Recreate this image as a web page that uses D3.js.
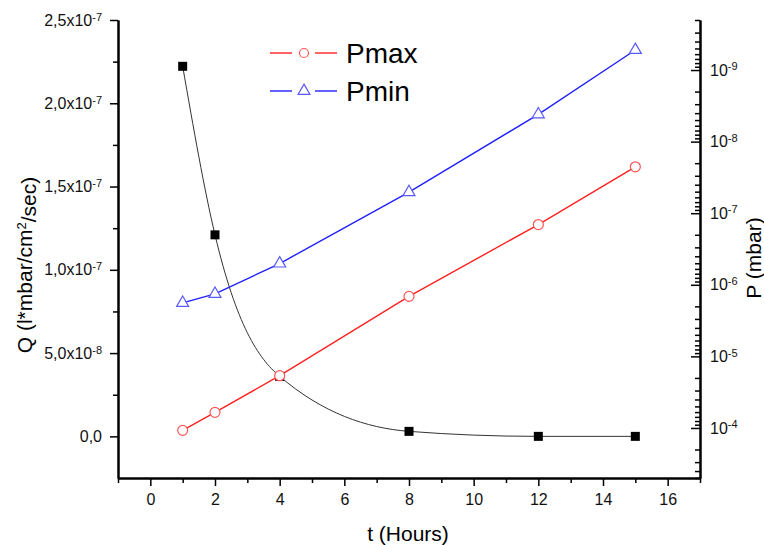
<!DOCTYPE html>
<html>
<head>
<meta charset="utf-8">
<script src="https://cdn.jsdelivr.net/npm/d3@7"></script>
<style>
  body { margin: 0; background: #fff; }
  svg { font-family: "Liberation Sans", Arial, sans-serif; }
</style>
</head>
<body>
<svg id="chart" width="764" height="545"></svg>
<script>
// data
var hours = [1, 2, 4, 8, 12, 15];
var qValues = [2.222e-7, 1.21e-7, 3.6e-8, 3.0e-9, 0, 0];
var pmaxValues = [1.08e-4, 6.05e-5, 1.86e-5, 1.45e-6, 1.44e-7, 2.25e-8];
var pminValues = [1.79e-6, 1.34e-6, 5.05e-7, 5.08e-8, 4.16e-9, 5.25e-10];

var xTicks = [0, 2, 4, 6, 8, 10, 12, 14, 16];
var qTicks = [0, 5e-8, 1e-7, 1.5e-7, 2e-7, 2.5e-7];
var qTickLabels = [["0,0", ""], ["5,0x10", "-8"], ["1,0x10", "-7"], ["1,5x10", "-7"], ["2,0x10", "-7"], ["2,5x10", "-7"]];
var pTicks = [1e-9, 1e-8, 1e-7, 1e-6, 1e-5, 1e-4];
var legendNames = ["Pmax", "Pmin"];

var svg = d3.select("#chart");
var plotLeft = 118, plotRight = 700, plotTop = 20, plotBottom = 478;

var x = d3.scaleLinear().domain([-1, 17]).range([plotLeft, plotRight]);
var yQ = d3.scaleLinear().domain([-2.5e-8, 2.5e-7]).range([plotBottom, plotTop]);
var yP = d3.scaleLog().domain([5e-4, 2e-10]).range([plotBottom, plotTop]);

// minor ticks
var xMinor = d3.range(-1, 18, 2);
var qMinor = d3.range(-2.5e-8, 2.6e-7, 5e-8).slice(1);
var pMinor = [];
[-10, -9, -8, -7, -6, -5, -4].forEach(function(e) {
    for (var m = 2; m <= 9; m++) {
        var v = m * Math.pow(10, e);
        if (v >= 2e-10 && v <= 5e-4) pMinor.push(v);
    }
});

function styleAxis(g) {
    g.attr("font-size", null).attr("font-family", null);
    g.select(".domain").attr("stroke", "#000").attr("stroke-width", 2);
    g.selectAll(".tick line").attr("stroke", "#000").attr("stroke-width", 1.5);
    g.selectAll("text").attr("fill", "#111").style("font-size", "16px");
}

// x axis
var gx = svg.append("g").attr("transform", "translate(0," + plotBottom + ")");
gx.call(d3.axisBottom(x).tickValues(xMinor).tickSize(5).tickSizeOuter(0).tickFormat(""));
var gx2 = svg.append("g").attr("transform", "translate(0," + plotBottom + ")");
gx2.call(d3.axisBottom(x).tickValues(xTicks).tickSize(8).tickSizeOuter(0).tickPadding(8));
styleAxis(gx);
styleAxis(gx2);

// left axis
var gq = svg.append("g").attr("transform", "translate(" + plotLeft + ",0)");
gq.call(d3.axisLeft(yQ).tickValues(qMinor).tickSize(5).tickSizeOuter(0).tickFormat(""));
var gq2 = svg.append("g").attr("transform", "translate(" + plotLeft + ",0)");
gq2.call(d3.axisLeft(yQ).tickValues(qTicks).tickSize(8).tickSizeOuter(0).tickPadding(8));
styleAxis(gq);
styleAxis(gq2);
gq2.selectAll(".tick text").each(function(d, i) {
    var t = d3.select(this).text("");
    t.append("tspan").text(qTickLabels[i][0]);
    if (qTickLabels[i][1]) {
        t.append("tspan").attr("dy", "-0.45em").style("font-size", "11px").text(qTickLabels[i][1]);
    }
});

// right axis (log, reversed)
var gp = svg.append("g").attr("transform", "translate(" + plotRight + ",0)");
gp.call(d3.axisRight(yP).tickValues(pMinor).tickSizeInner(-5).tickSizeOuter(0).tickFormat(""));
var gp2 = svg.append("g").attr("transform", "translate(" + plotRight + ",0)");
gp2.call(d3.axisRight(yP).tickValues(pTicks).tickSizeInner(-9).tickSizeOuter(0).tickPadding(10));
styleAxis(gp);
styleAxis(gp2);
gp2.selectAll(".tick text").each(function(d) {
    var t = d3.select(this).text("");
    t.append("tspan").text("10");
    t.append("tspan").attr("dy", "-0.5em").style("font-size", "11px").text(Math.round(Math.log10(d)));
});

// axis titles
svg.append("text")
    .attr("x", 408).attr("y", 541)
    .attr("text-anchor", "middle")
    .style("font-size", "21px")
    .text("t (Hours)");

var qt = svg.append("text")
    .attr("transform", "translate(32,265) rotate(-90)")
    .attr("text-anchor", "middle")
    .style("font-size", "21px");
qt.append("tspan").text("Q (l*mbar/cm");
qt.append("tspan").attr("dy", "-0.5em").style("font-size", "13px").text("2");
qt.append("tspan").attr("dy", "0.5em").text("/sec)");

svg.append("text")
    .attr("transform", "translate(761,258) rotate(-90)")
    .attr("text-anchor", "middle")
    .style("font-size", "21px")
    .text("P (mbar)");

// Q curve (black, smooth)
var qLine = d3.line()
    .x(function(d, i) { return x(hours[i]); })
    .y(function(d) { return yQ(d); })
    .curve(d3.curveMonotoneX);

svg.append("path")
    .datum(qValues)
    .attr("d", qLine)
    .attr("fill", "none")
    .attr("stroke", "#333")
    .attr("stroke-width", 1);

// P lines
var pLine = d3.line()
    .x(function(d, i) { return x(hours[i]); })
    .y(function(d) { return yP(d); });

svg.append("path").datum(pmaxValues).attr("d", pLine)
    .attr("fill", "none").attr("stroke", "#ff2020").attr("stroke-width", 1.4);
svg.append("path").datum(pminValues).attr("d", pLine)
    .attr("fill", "none").attr("stroke", "#2020ff").attr("stroke-width", 1.4);

// markers
svg.selectAll(".sq").data(qValues).enter().append("rect")
    .attr("class", "sq")
    .attr("x", function(d, i) { return x(hours[i]) - 4.5; })
    .attr("y", function(d) { return yQ(d) - 4.5; })
    .attr("width", 9).attr("height", 9)
    .attr("fill", "#000");

svg.selectAll(".circ").data(pmaxValues).enter().append("circle")
    .attr("class", "circ")
    .attr("cx", function(d, i) { return x(hours[i]); })
    .attr("cy", function(d) { return yP(d); })
    .attr("r", 5)
    .attr("fill", "#fff")
    .attr("stroke", "#ff5555")
    .attr("stroke-width", 1.2);

var tri = d3.symbol().type(d3.symbolTriangle).size(62);
svg.selectAll(".tri").data(pminValues).enter().append("path")
    .attr("class", "tri")
    .attr("d", tri)
    .attr("transform", function(d, i) { return "translate(" + x(hours[i]) + "," + yP(d) + ")"; })
    .attr("fill", "#fff")
    .attr("stroke", "#5a5aff")
    .attr("stroke-width", 1.2);

// legend
var lg = svg.append("g");
var legendColors = [["#ff2020", "#ff5555"], ["#2020ff", "#5a5aff"]];
legendNames.forEach(function(name, i) {
    var cy = 53 + i * 38;
    lg.append("line").attr("x1", 270).attr("x2", 292).attr("y1", cy).attr("y2", cy)
        .attr("stroke", legendColors[i][0]).attr("stroke-width", 1.4);
    lg.append("line").attr("x1", 315).attr("x2", 337).attr("y1", cy).attr("y2", cy)
        .attr("stroke", legendColors[i][0]).attr("stroke-width", 1.4);
    if (i == 0) {
        lg.append("circle").attr("cx", 304).attr("cy", cy).attr("r", 4.5)
            .attr("fill", "#fff").attr("stroke", legendColors[i][1]).attr("stroke-width", 1.2);
    } else {
        lg.append("path").attr("d", tri).attr("transform", "translate(304," + cy + ")")
            .attr("fill", "#fff").attr("stroke", legendColors[i][1]).attr("stroke-width", 1.2);
    }
    lg.append("text").attr("x", 346).attr("y", cy + 10)
        .style("font-size", "28px").text(name);
});
</script>
</body>
</html>
